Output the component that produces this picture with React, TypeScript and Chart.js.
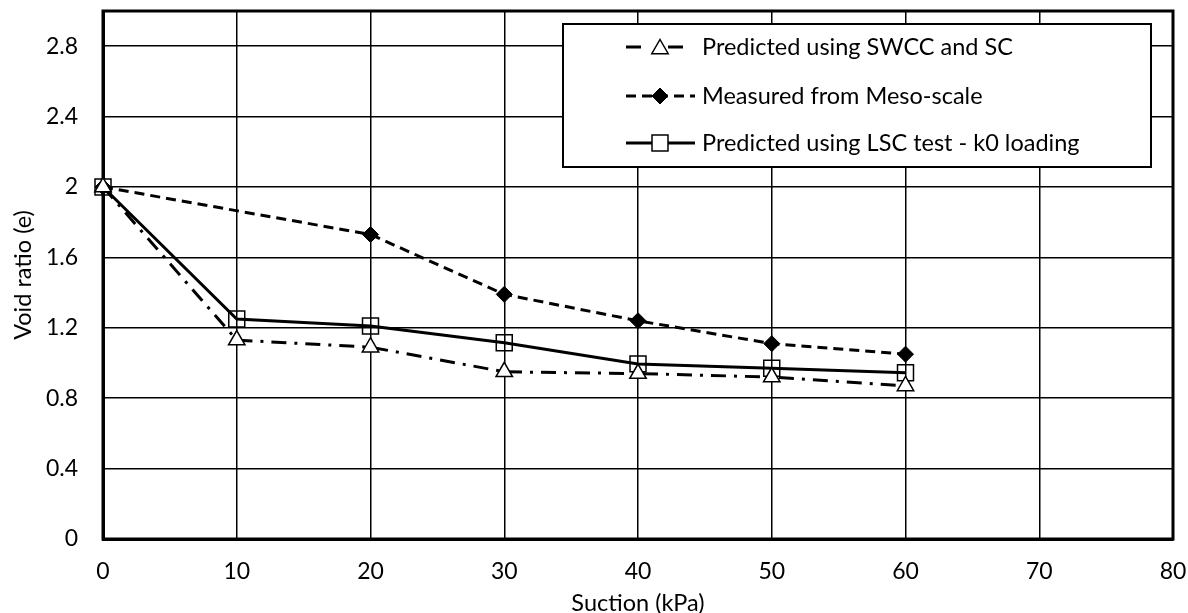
import React, { useEffect, useRef } from "react";
import { Chart, registerables } from "chart.js";

Chart.register(...registerables);

// ---- data ----
const suction = [0, 10, 20, 30, 40, 50, 60];
const measuredSuction = [0, 20, 30, 40, 50, 60];
const swccValues = [2.0, 1.13, 1.09, 0.95, 0.94, 0.92, 0.87];
const mesoValues = [2.0, 1.73, 1.39, 1.24, 1.11, 1.05];
const lscValues = [2.0, 1.25, 1.21, 1.115, 0.995, 0.97, 0.945];
const seriesLabels = [
  "Predicted using SWCC and SC",
  "Measured from Meso-scale",
  "Predicted using LSC test - k0 loading",
];
const yTickValues = [0, 0.4, 0.8, 1.2, 1.6, 2, 2.4, 2.8];
const xTickValues = [0, 10, 20, 30, 40, 50, 60, 70, 80];
const xTitle = "Suction (kPa)";
const yTitle = "Void ratio (e)";

const FONT = "Lato, 'Open Sans', 'DejaVu Sans', sans-serif";

function drawMarker(ctx: CanvasRenderingContext2D, style: string, x: number, y: number, r: number, fill: string, bw: number) {
  ctx.save();
  ctx.beginPath();
  if (style === "triangle") {
    ctx.moveTo(x, y - r);
    ctx.lineTo(x + r * 0.866, y + r * 0.5);
    ctx.lineTo(x - r * 0.866, y + r * 0.5);
    ctx.closePath();
  } else if (style === "rectRot") {
    ctx.moveTo(x - r, y);
    ctx.lineTo(x, y - r);
    ctx.lineTo(x + r, y);
    ctx.lineTo(x, y + r);
    ctx.closePath();
  } else {
    const s = Math.SQRT1_2 * r;
    ctx.rect(x - s, y - s, 2 * s, 2 * s);
  }
  ctx.fillStyle = fill;
  ctx.fill();
  ctx.lineWidth = bw;
  ctx.strokeStyle = "#000";
  ctx.setLineDash([]);
  ctx.stroke();
  ctx.restore();
}

const framePlugin = {
  id: "frame",
  beforeDatasetsDraw(chart: any) {
    const { ctx, chartArea: a } = chart;
    ctx.save();
    ctx.strokeStyle = "#000";
    ctx.lineWidth = 3;
    ctx.strokeRect(a.left, a.top, a.right - a.left, a.bottom - a.top);
    ctx.restore();
  },
};

const legendDash = [[15, 27], [10, 6], []];

const legendPlugin = {
  id: "boxLegend",
  afterDatasetsDraw(chart: any) {
    const ctx: CanvasRenderingContext2D = chart.ctx;
    const left = 563, top = 24, right = 1151, bottom = 167;
    ctx.save();
    ctx.fillStyle = "#fff";
    ctx.fillRect(left, top, right - left, bottom - top);
    ctx.lineWidth = 2;
    ctx.strokeStyle = "#000";
    ctx.strokeRect(left, top, right - left, bottom - top);
    const rows = [47, 96, 143];
    chart.data.datasets.forEach((ds: any, i: number) => {
      const y = rows[i];
      ctx.save();
      ctx.beginPath();
      ctx.lineWidth = ds.borderWidth;
      ctx.strokeStyle = "#000";
      ctx.setLineDash(legendDash[i]);
      ctx.moveTo(626, y);
      ctx.lineTo(695, y);
      ctx.stroke();
      ctx.restore();
      drawMarker(ctx, ds.pointStyle, 660, y + (ds.pointStyle === "triangle" ? 2 : 0), ds.pointRadius, ds.pointBackgroundColor === "rgba(255,255,255,0)" ? "#fff" : ds.pointBackgroundColor, ds.pointBorderWidth);
      ctx.fillStyle = "#000";
      ctx.font = `23.5px ${FONT}`;
      ctx.textBaseline = "middle";
      ctx.textAlign = "left";
      ctx.fillText(ds.label, 702, y);
    });
    ctx.restore();
  },
};

export default function App() {
  const ref = useRef<HTMLCanvasElement | null>(null);
  useEffect(() => {
    document.body.style.margin = "0";
    const canvas = ref.current!;
    const chart = new Chart(canvas, {
      type: "line",
      data: {
        datasets: [
          {
            label: seriesLabels[0],
            data: suction.map((x, i) => ({ x, y: swccValues[i] })),
            borderColor: "#000",
            borderWidth: 3,
            borderDash: [15, 8, 3, 8],
            pointStyle: "triangle",
            pointRadius: 9.5,
            pointBackgroundColor: "#fff",
            pointBorderColor: "#000",
            pointBorderWidth: 1.5,
            clip: false,
          } as any,
          {
            label: seriesLabels[1],
            data: measuredSuction.map((x, i) => ({ x, y: mesoValues[i] })),
            borderColor: "#000",
            borderWidth: 3,
            borderDash: [10, 6],
            pointStyle: "rectRot",
            pointRadius: 8,
            pointBackgroundColor: "#000",
            pointBorderColor: "#000",
            pointBorderWidth: 1,
            clip: false,
          } as any,
          {
            label: seriesLabels[2],
            data: suction.map((x, i) => ({ x, y: lscValues[i] })),
            borderColor: "#000",
            borderWidth: 3,
            pointStyle: "rect",
            pointRadius: 11.3,
            pointBackgroundColor: "rgba(255,255,255,0)",
            pointBorderColor: "#000",
            pointBorderWidth: 1.5,
            clip: false,
          } as any,
        ],
      },
      options: {
        animation: false,
        responsive: false,
        maintainAspectRatio: false,
        layout: { autoPadding: false, padding: { top: 11, right: 15, left: 0, bottom: 0 } },
        plugins: {
          legend: { display: false },
          tooltip: { enabled: false },
        },
        elements: { line: { tension: 0 } },
        scales: {
          x: {
            type: "linear",
            min: 0,
            max: 80,
            afterBuildTicks: (s: any) => {
              s.ticks = xTickValues.map((v) => ({ value: v }));
            },
            afterFit: (s: any) => {
              s.height = 74;
              s.paddingLeft = 0;
              s.paddingRight = 0;
              s.paddingTop = 0;
              s.paddingBottom = 0;
            },
            grid: { color: "#000", lineWidth: 1.5, drawTicks: false },
            border: { color: "#000", width: 3 },
            ticks: {
              padding: 19,
              color: "#000",
              font: { family: FONT, size: 23 },
              maxRotation: 0,
              callback: (v: any) => String(v),
            },
            title: {
              display: true,
              text: xTitle,
              color: "#000",
              font: { family: FONT, size: 23.5, lineHeight: 0.85 },
              padding: { top: 0, bottom: 0 },
            },
          },
          y: {
            type: "linear",
            min: 0,
            max: 3,
            afterBuildTicks: (s: any) => {
              s.ticks = yTickValues.map((v) => ({ value: v }));
            },
            afterFit: (s: any) => {
              s.width = 103;
              s.paddingLeft = 0;
              s.paddingRight = 0;
              s.paddingTop = 0;
              s.paddingBottom = 0;
            },
            grid: { color: "#000", lineWidth: 1.5, drawTicks: false },
            border: { color: "#000", width: 3 },
            ticks: {
              padding: 25,
              color: "#000",
              font: { family: FONT, size: 23 },
              callback: (v: any) => String(Number(Number(v).toFixed(1))),
            },
            title: {
              display: true,
              text: yTitle,
              color: "#000",
              font: { family: FONT, size: 23.5, lineHeight: 1.2 },
              padding: { top: 9, bottom: 0 },
            },
          },
        },
      },
      plugins: [framePlugin, legendPlugin],
    });
    return () => chart.destroy();
  }, []);
  return (
    <div style={{ width: 1188, height: 613 }}>
      <canvas ref={ref} width={1188} height={613} style={{ display: "block" }} />
    </div>
  );
}
